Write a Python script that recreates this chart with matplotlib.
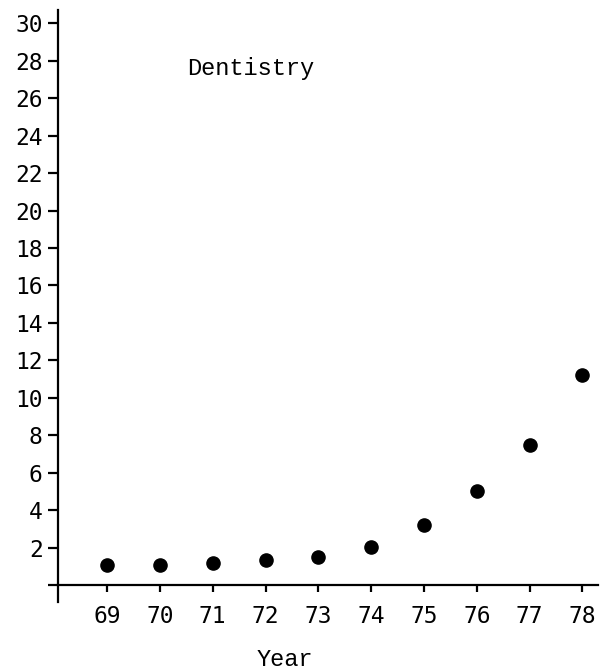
import matplotlib
matplotlib.use("Agg")
import matplotlib.pyplot as plt

# Dentistry series
years = [69, 70, 71, 72, 73, 74, 75, 76, 77, 78]
values = [1.07, 1.07, 1.18, 1.34, 1.5, 2.05, 3.2, 5.0, 7.5, 11.2]
y_ticks = [0, 2, 4, 6, 8, 10, 12, 14, 16, 18, 20, 22, 24, 26, 28, 30]
y_labels = [""] + [str(v) for v in y_ticks[1:]]

fig = plt.figure(figsize=(6, 6.71), dpi=100)
ax = fig.add_axes([0.0967, 0.1028, 0.9003, 0.8822])

ax.scatter(years, values, s=90, color="black", zorder=3)

ax.set_xlim(68.07, 78.3)
ax.set_ylim(-0.9, 30.7)

for side in ["top", "right"]:
    ax.spines[side].set_visible(False)
ax.spines["bottom"].set_position(("data", 0))
ax.spines["left"].set_linewidth(1.6)
ax.spines["bottom"].set_linewidth(1.6)

ax.set_xticks(years)
ax.set_xticklabels([str(y) for y in years], family="DejaVu Sans Mono", fontsize=16.5)
ax.set_yticks(y_ticks)
ax.set_yticklabels(y_labels, family="DejaVu Sans Mono", fontsize=16.5)
ax.tick_params(axis="x", direction="out", length=5, width=1.6, pad=9)
ax.tick_params(axis="y", direction="out", length=7, width=1.6, pad=4)

ax.text(70.52, 27.6, "Dentistry", family="Liberation Mono", fontsize=17,
        ha="left", va="center")
fig.text(285 / 600, 1 - 660 / 671, "Year", family="Liberation Mono", fontsize=17,
         ha="center", va="center")

fig.savefig("out.png", dpi=100)
